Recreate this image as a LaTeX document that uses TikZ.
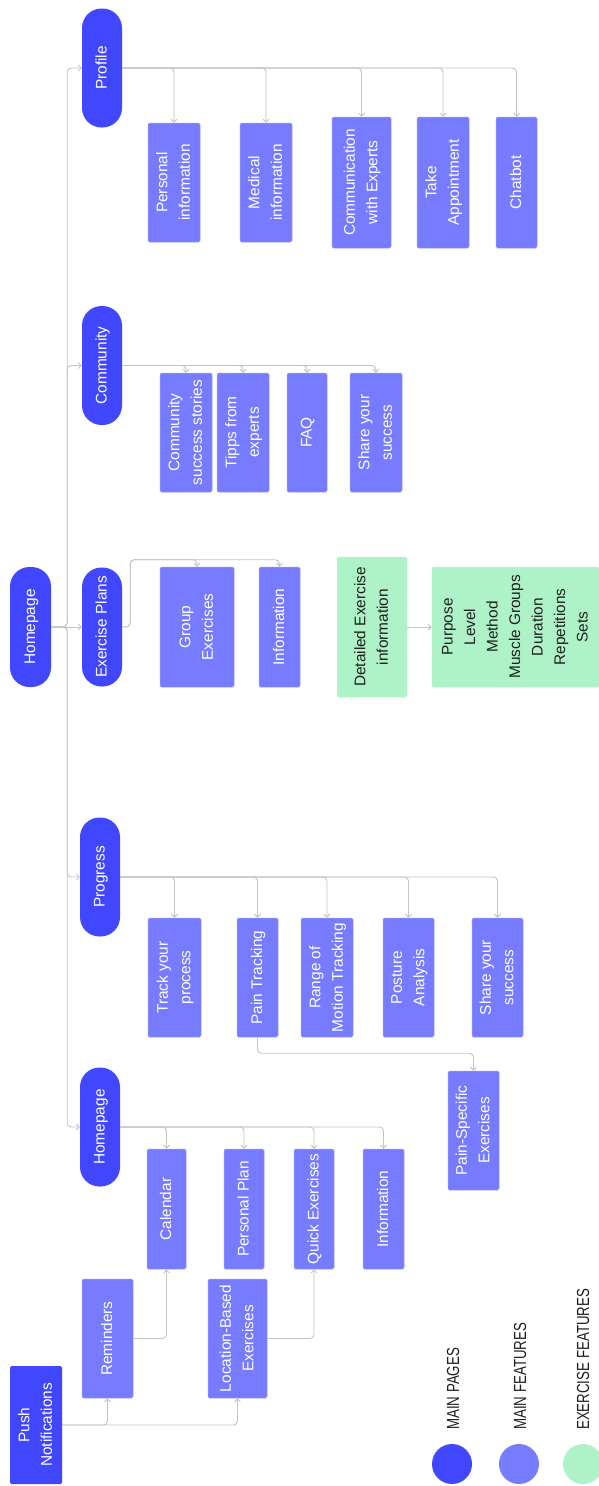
\documentclass[tikz,border=0pt]{standalone}
\usepackage{fontspec}
\setmainfont{Liberation Sans}
\usetikzlibrary{arrows.meta}
\definecolor{pagecol}{RGB}{64,71,255}
\definecolor{featcol}{RGB}{119,123,255}
\definecolor{exercol}{RGB}{174,243,199}
\definecolor{linecol}{RGB}{196,196,196}
\definecolor{legtext}{RGB}{30,30,30}
% text set upwards, lines centred
\newcommand\vtext[1]{\rotatebox{90}{\begin{tabular}{@{}c@{}}#1\end{tabular}}}
\newcommand\legtxt[1]{\scalebox{0.76}[1]{\fontsize{17.5}{20}\selectfont #1}}

\begin{document}
\begin{tikzpicture}[x=1pt,y=-1pt,
  font=\fontsize{15.4}{22.5}\selectfont,
  page/.style={fill=pagecol, text=white, inner sep=0pt, rounded corners=19.5pt,
    minimum width=40pt, minimum height=119pt},
  feat/.style={fill=featcol, draw=featcol!75!white, line width=0.5pt, text=white,
    inner sep=0pt, rounded corners=1.5pt},
  exer/.style={fill=exercol, draw=exercol!80!white, line width=0.5pt, text=legtext,
    inner sep=0pt, rounded corners=1.5pt},
  sz/.style 2 args={minimum width=#1pt, minimum height=#2pt},
  conn/.style={draw=linecol, line width=0.9pt, rounded corners=4pt,
    -{Straight Barb[length=3pt,width=6pt]}},
  legdot/.style={fill=#1, draw=none},
  leglabel/.style={rotate=90, anchor=west, inner sep=0pt, text=legtext},
]
\useasboundingbox (0,0) rectangle (599,1486);

% ---- main pages
\node[page, minimum width=41pt, minimum height=120pt] (root) at (30.5,627) {\vtext{Homepage}};
\node[page] (profile)   at (102,68)    {\vtext{Profile}};
\node[page] (community) at (102,365.5) {\vtext{Community}};
\node[page] (explans)   at (102,627)   {\vtext{Exercise Plans}};
\node[page] (progress)  at (100,877)   {\vtext{Progress}};
\node[page] (home)      at (100,1127)  {\vtext{Homepage}};

% ---- profile features
\node[feat, sz={52}{119}] (pinfo) at (174,182.5)   {\vtext{Personal\\information}};
\node[feat, sz={52}{119}] (minfo) at (266,182.5)   {\vtext{Medical\\information}};
\node[feat, sz={59}{131}] (comm)  at (361.5,182.5) {\vtext{Communication\\with Experts}};
\node[feat, sz={52}{131}] (appt)  at (443,182.5)   {\vtext{Take\\Appointment}};
\node[feat, sz={41}{131}] (chat)  at (516.5,182.5) {\vtext{Chatbot}};

% ---- community features
\node[feat, sz={52}{119}] (stories) at (186,432.5) {\vtext{Community\\success stories}};
\node[feat, sz={52}{119}] (tipps)   at (243,432.5) {\vtext{Tipps from\\experts}};
\node[feat, sz={40}{119}] (faq)     at (307,432.5) {\vtext{FAQ}};
\node[feat, sz={52}{119}] (sharec)  at (376,432.5) {\vtext{Share your\\success}};

% ---- exercise plan features
\node[feat, sz={74}{120}] (group) at (197,627)   {\vtext{Group\\Exercises}};
\node[feat, sz={41}{120}] (einfo) at (279.5,627) {\vtext{Information}};
\node[exer, sz={70}{140}] (detail) at (372,627)  {\vtext{Detailed Exercise\\information}};
\node[exer, sz={167}{120}] (params) at (515.5,627)
  {\vtext{Purpose\\Level\\Method\\Muscle Groups\\Duration\\Repetitions\\Sets}};

% ---- progress features
\node[feat, sz={53}{119}] (track)   at (174.5,977.5) {\vtext{Track your\\process}};
\node[feat, sz={41}{119}] (pain)    at (257.5,977.5) {\vtext{Pain Tracking}};
\node[feat, sz={52}{119}] (rom)     at (327,977.5)   {\vtext{Range of\\Motion Tracking}};
\node[feat, sz={51}{119}] (posture) at (408.5,977.5) {\vtext{Posture\\Analysis}};
\node[feat, sz={51}{119}] (sharep)  at (497.5,977.5) {\vtext{Share your\\success}};
\node[feat, sz={51}{119}] (painex)  at (473.5,1130.5) {\vtext{Pain-Specific\\Exercises}};

% ---- homepage features
\node[feat, sz={39}{120}] (cal)   at (166.5,1209) {\vtext{Calendar}};
\node[feat, sz={40}{120}] (pplan) at (244,1209)   {\vtext{Personal Plan}};
\node[feat, sz={40}{120}] (quick) at (314,1209)   {\vtext{Quick Exercises}};
\node[feat, sz={41}{120}] (hinfo) at (383.5,1209) {\vtext{Information}};

% ---- notifications
\node[fill=pagecol, text=white, inner sep=0pt, rounded corners=1.5pt, sz={52}{118}]
  (push) at (36,1425) {\vtext{Push\\Notifications}};
\node[feat, sz={51}{119}] (rem) at (107.5,1338.5) {\vtext{Reminders}};
\node[feat, sz={59}{119}] (loc) at (237.5,1338.5) {\vtext{Location-Based\\Exercises}};

% ---- connectors: main trunk
\draw[conn] (root.east) -- ++(16,0) |- (profile.west);
\draw[conn] (root.east) -- ++(16,0) |- (community.west);
\draw[conn] (root.east) -- (explans.west);
\draw[conn] (root.east) -- ++(16,0) |- (progress.west);
\draw[conn] (root.east) -- ++(16,0) |- (home.west);

% ---- connectors: page to features
\foreach \n in {pinfo,minfo,comm,appt,chat}
  \draw[conn] (profile.east) -| (\n.north);
\foreach \n in {stories,tipps,faq,sharec}
  \draw[conn] (community.east) -| (\n.north);
\draw[conn] (explans.east) -- ++(8,0) |- ([yshift=7pt]group.north) -- (group.north);
\draw[conn] (explans.east) -- ++(8,0) |- ([yshift=7pt]einfo.north) -- (einfo.north);
\draw[conn] (detail.east) -- (params.west);
\foreach \n in {track,pain,rom,posture,sharep}
  \draw[conn] (progress.east) -| (\n.north);
\draw[conn] (pain.south) -- ++(0,16) -| (painex.north);
\foreach \n in {cal,pplan,quick,hinfo}
  \draw[conn] (home.east) -| (\n.north);

% ---- connectors: notifications
\draw[conn] (push.east) -| (rem.south);
\draw[conn] (push.east) -| (loc.south);
\draw[conn] (rem.east) -| (cal.south);
\draw[conn] (loc.east) -| (quick.south);

% ---- legend
\fill[legdot=pagecol] (452,1464) circle (20);
\fill[legdot=featcol] (519,1464) circle (20);
\fill[legdot=exercol] (583,1464) circle (20);
\node[leglabel] (lpages) at (453,1430) {\legtxt{MAIN PAGES}};
\node[leglabel] (lfeat)  at (520,1430) {\legtxt{MAIN FEATURES}};
\node[leglabel] (lexer)  at (583,1430) {\legtxt{EXERCISE FEATURES}};
\end{tikzpicture}
\end{document}
